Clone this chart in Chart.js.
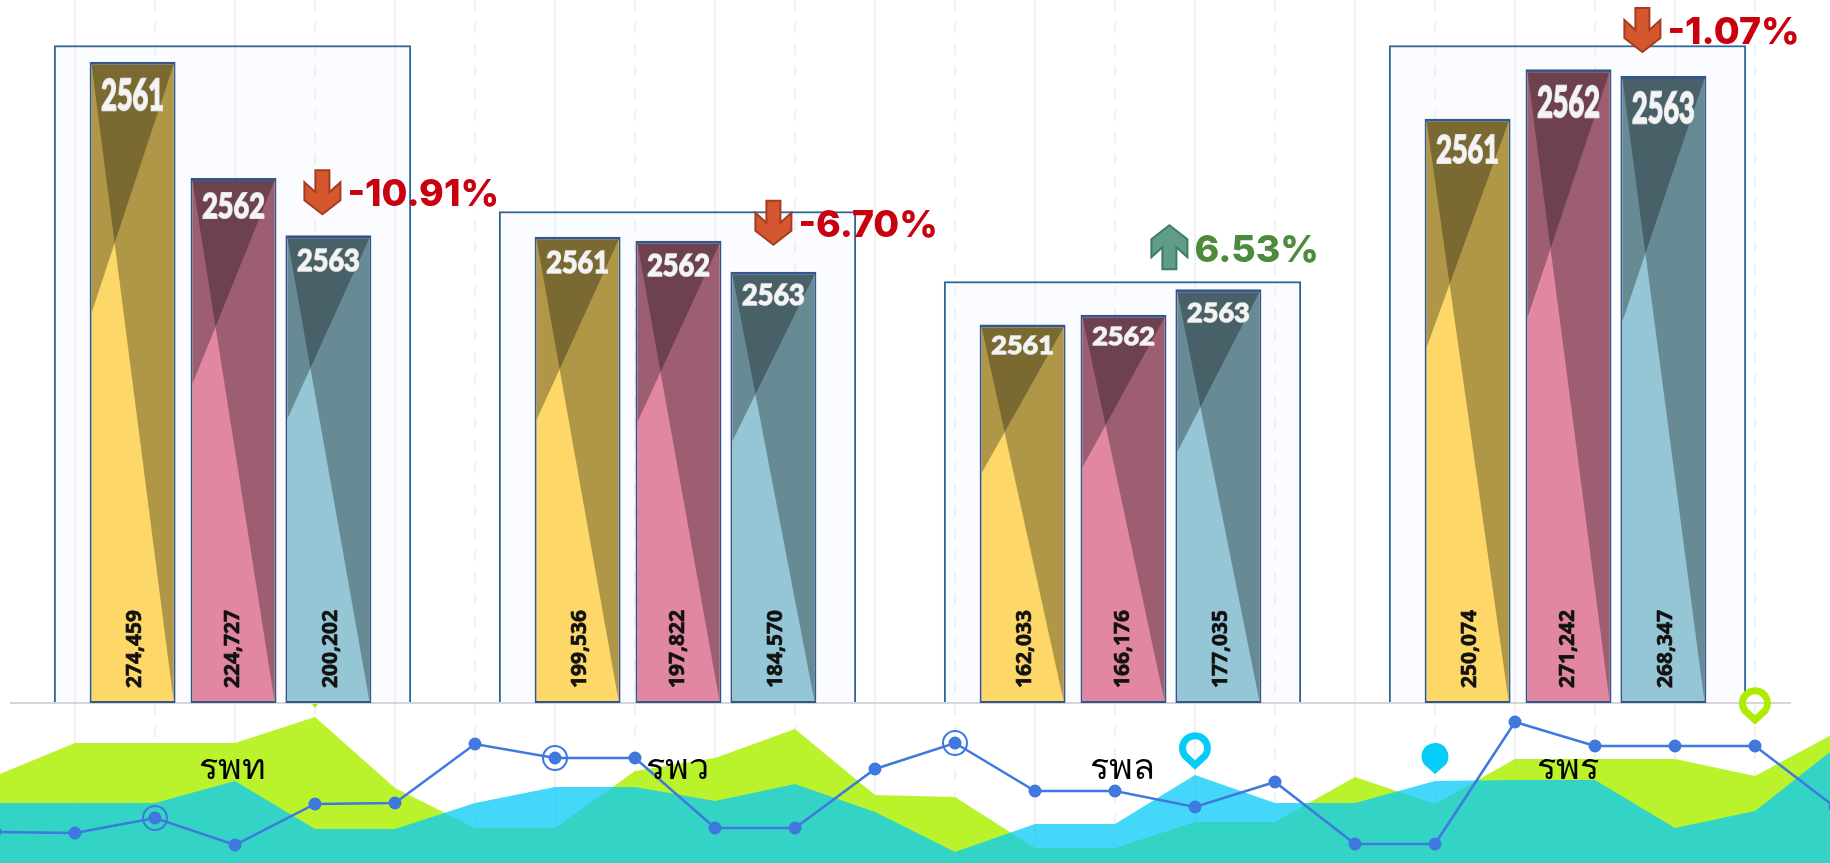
<!DOCTYPE html>
<html>
<head>
<meta charset="utf-8">
<title>chart</title>
<script src="https://cdn.jsdelivr.net/npm/chart.js@4"></script>
<style>
html, body { margin: 0; padding: 0; background: #fff; overflow: hidden; width: 1830px; height: 863px; }
canvas { position: absolute; top: 0; }
#trendChart { left: -5px; }
#boxChart, #barChart { left: 10px; }
</style>
</head>
<body>
<canvas id="trendChart" width="1840" height="863"></canvas>
<canvas id="boxChart" width="1780" height="863"></canvas>
<canvas id="barChart" width="1820" height="863"></canvas>
<script>
// bar part
const categories = ['รพท', 'รพว', 'รพล', 'รพร'];
const years = ['2561', '2562', '2563'];
const values2561 = [274459, 199536, 162033, 250074];
const values2562 = [224727, 197822, 166176, 271242];
const values2563 = [200202, 184570, 177035, 268347];
const boxValues = [281500, 210500, 180500, 281500];
const changes = ['-10.91%', '-6.70%', '6.53%', '-1.07%'];

// bottom part
const slots = ['0', '1', '2', '3', '4', '5', '6', '7', '8', '9', '10', '11', '12', '13', '14', '15', '16', '17', '18', '19', '20', '21', '22', '23'];
const limeValues = [87, 120, 120, 120, 146, 75, 35, 35, 92, 105, 134, 68, 66, 15, 15, 41, 41, 86, 59, 104, 104, 104, 87, 130];
const cyanValues = [60, 60, 60, 82, 34, 34, 60, 76, 76, 62, 79, 51, 11, 39, 39, 88, 60, 60, 82, 83, 83, 35, 52, 115];
const lineValues = [31, 30, 45, 18, 59, 60, 119, 105, 105, 35, 35, 94, 120, 72, 72, 56, 81, 19, 19, 141, 117, 117, 117, 56];
const ringSlots = [2, 7, 12];

const barColors = ['#FDD868', '#E287A2', '#95C6D6'];
const LIME = 'rgba(174, 241, 6, 0.85)';
const CYAN = 'rgba(7, 202, 248, 0.754)';
const BLUE = '#3F78DE';

// the three bars of a group are not evenly spaced in the picture
const barNudge = [-2, 1, -2];
const valueTextShift = [2, 0, 3];

// where each change badge sits against the third bar of its group
const badgeShift = [-6, 0, -49, -21];
const badgeLift = [43, 49, 42, 46];

let trendChart;

function drawArrow(ctx, cx, cy, up) {
    const pts = [[-7, -22], [7, -22], [7, 0], [18, -10], [18, 8], [0, 22], [-18, 8], [-18, -10], [-7, 0]];
    ctx.beginPath();
    pts.forEach(function(p, i) {
        let py = up ? cy - p[1] : cy + p[1];
        if (i === 0) ctx.moveTo(cx + p[0], py); else ctx.lineTo(cx + p[0], py);
    });
    ctx.closePath();
    ctx.fillStyle = up ? '#5F9D87' : '#D5572F';
    ctx.strokeStyle = up ? '#3B7D66' : '#A63C1F';
    ctx.lineWidth = 2;
    ctx.fill();
    ctx.stroke();
}

function drawPin(ctx, x, tipY, size, color, hollow) {
    const r = size / 2;
    const cy = tipY - size * 1.15 + r;
    ctx.beginPath();
    ctx.arc(x, cy, hollow ? r - 3.5 : r, Math.PI * 0.8, Math.PI * 0.2);
    ctx.lineTo(x, hollow ? tipY - 4 : tipY);
    ctx.closePath();
    if (hollow) {
        ctx.strokeStyle = color;
        ctx.lineWidth = 7;
        ctx.stroke();
    } else {
        ctx.fillStyle = color;
        ctx.fill();
    }
}

const barMarks = {
    id: 'barMarks',
    afterDatasetsUpdate(chart) {
        years.forEach(function(year, d) {
            chart.getDatasetMeta(d).data.forEach(function(bar) {
                bar.x += barNudge[d];
            });
        });
    },
    afterDatasetsDraw(chart) {
        const ctx = chart.ctx;
        years.forEach(function(year, d) {
            const meta = chart.getDatasetMeta(d);
            meta.data.forEach(function(bar) {
                // inside the border only
                const L = bar.x - bar.width / 2 + 2, R = bar.x + bar.width / 2 - 2;
                const T = bar.y + 3, B = bar.base - 2, h = B - T;
                ctx.save();
                // the two dark triangles over each bar
                ctx.fillStyle = 'rgba(0, 0, 0, 0.3)';
                ctx.beginPath();
                ctx.moveTo(L, T); ctx.lineTo(R, T); ctx.lineTo(R, B);
                ctx.fill();
                ctx.beginPath();
                ctx.moveTo(L, T); ctx.lineTo(R, T); ctx.lineTo(L, T + h * 0.39);
                ctx.fill();
                // year, stretched with the height of the bar
                ctx.translate(bar.x, T + h * 0.05);
                ctx.scale(1, h * 0.047 / 19);
                ctx.font = 'bold 27px Lato';
                ctx.textAlign = 'center';
                ctx.textBaseline = 'middle';
                ctx.lineWidth = 1.5;
                ctx.strokeStyle = '#e4e4e4';
                ctx.fillStyle = '#f4f4f4';
                ctx.strokeText(year, 0, 0);
                ctx.fillText(year, 0, 0);
                ctx.restore();
            });
        });
        // value text
        years.forEach(function(year, d) {
            const values = chart.data.datasets[d].data;
            chart.getDatasetMeta(d).data.forEach(function(bar, i) {
                ctx.save();
                ctx.translate(bar.x + valueTextShift[d], bar.base - 15);
                ctx.rotate(-Math.PI / 2);
                ctx.font = 'bold 21px "Open Sans"';
                ctx.textAlign = 'left';
                ctx.textBaseline = 'middle';
                ctx.fillStyle = '#111';
                ctx.strokeStyle = '#111';
                ctx.lineWidth = 0.6;
                ctx.strokeText(values[i].toLocaleString('en-US'), 0, 0);
                ctx.fillText(values[i].toLocaleString('en-US'), 0, 0);
                ctx.restore();
            });
        });
        // change badges
        const third = chart.getDatasetMeta(2).data;
        changes.forEach(function(text, i) {
            const up = text.charAt(0) !== '-';
            const ax = third[i].x + badgeShift[i];
            const ay = third[i].y - badgeLift[i];
            drawArrow(ctx, ax, ay, up);
            ctx.font = '800 37.5px Inter';
            ctx.textAlign = 'left';
            ctx.textBaseline = 'middle';
            ctx.fillStyle = up ? '#4E8A3C' : '#C9000E';
            ctx.fillText(text, ax + 25, ay + 3);
        });
        // pins, placed from the trend chart's scales
        const tx = trendChart.scales.x, ty = trendChart.scales.y;
        const shift = -15;
        drawPin(ctx, tx.getPixelForValue(15) + shift, ty.getPixelForValue(cyanValues[15]) - 6, 32, '#05CDF8', true);
        drawPin(ctx, tx.getPixelForValue(18) + shift, ty.getPixelForValue(cyanValues[18]) - 7, 27, '#05CDF8', false);
        drawPin(ctx, tx.getPixelForValue(22) + shift, ty.getPixelForValue(lineValues[22]) - 22, 32, '#ADEB00', true);
        // only the tip of the pin over the lime peak shows below the axis line
        const peakX = tx.getPixelForValue(4) + shift, peakY = ty.getPixelForValue(limeValues[4]);
        ctx.beginPath();
        ctx.moveTo(peakX - 3, peakY - 13);
        ctx.lineTo(peakX + 3, peakY - 13);
        ctx.lineTo(peakX, peakY - 9);
        ctx.closePath();
        ctx.fillStyle = '#ADEB00';
        ctx.fill();
    }
};

trendChart = new Chart(document.getElementById('trendChart'), {
    data: {
        labels: slots,
        datasets: [{
            type: 'line',
            data: lineValues.map(function(v, i) { return ringSlots.includes(i) ? v : null; }),
            showLine: false,
            pointRadius: 12,
            pointBackgroundColor: 'rgba(0,0,0,0)',
            pointBorderColor: BLUE,
            pointBorderWidth: 2
        }, {
            type: 'line',
            data: lineValues,
            borderColor: BLUE,
            borderWidth: 2.5,
            tension: 0,
            pointRadius: 6.5,
            pointBackgroundColor: BLUE,
            pointBorderColor: BLUE,
            pointBorderWidth: 0
        }, {
            type: 'line',
            data: cyanValues,
            backgroundColor: CYAN,
            borderWidth: 0,
            pointRadius: 0,
            tension: 0,
            fill: 'origin'
        }, {
            type: 'line',
            data: limeValues,
            backgroundColor: LIME,
            borderWidth: 0,
            pointRadius: 0,
            tension: 0,
            fill: 'origin'
        }]
    },
    options: {
        responsive: false,
        animation: false,
        layout: { padding: 0, autoPadding: false },
        plugins: { legend: { display: false }, tooltip: { enabled: false } },
        scales: {
            x: {
                offset: false,
                ticks: { display: false, autoSkip: false },
                border: {
                    display: false,
                    dash: function(c) { return c.index % 2 === 1 ? [] : [11, 11]; }
                },
                grid: { color: '#f1f1f4', lineWidth: 2, drawTicks: false }
            },
            y: {
                display: false,
                min: 0,
                max: 863
            }
        }
    }
});

new Chart(document.getElementById('boxChart'), {
    type: 'bar',
    data: {
        labels: categories,
        datasets: [{
            data: boxValues,
            backgroundColor: 'rgba(235, 242, 255, 0.2)',
            borderColor: '#2E6595',
            borderWidth: 2,
            borderSkipped: 'bottom',
            categoryPercentage: 0.803,
            barPercentage: 1
        }]
    },
    options: {
        responsive: false,
        animation: false,
        layout: { padding: { top: 2, bottom: 160 }, autoPadding: false },
        plugins: { legend: { display: false }, tooltip: { enabled: false } },
        scales: {
            x: { display: false },
            y: { display: false, min: 0, max: 300000 }
        }
    }
});

new Chart(document.getElementById('barChart'), {
    type: 'bar',
    data: {
        labels: categories,
        datasets: [
            { label: years[0], data: values2561, backgroundColor: barColors[0] },
            { label: years[1], data: values2562, backgroundColor: barColors[1] },
            { label: years[2], data: values2563, backgroundColor: barColors[2] }
        ]
    },
    options: {
        responsive: false,
        animation: false,
        layout: { padding: { top: 2, right: 40 }, autoPadding: false },
        plugins: { legend: { display: false }, tooltip: { enabled: false } },
        datasets: {
            bar: {
                categoryPercentage: 0.66,
                barPercentage: 0.878,
                borderColor: '#34568B',
                borderWidth: { top: 3, left: 2, right: 2, bottom: 2 },
                borderSkipped: false
            }
        },
        scales: {
            x: {
                afterFit: function(scale) { scale.height = 160; },
                border: { color: '#d6d6d6', width: 2 },
                grid: { display: false, drawTicks: false },
                ticks: {
                    color: '#000',
                    padding: 44,
                    maxRotation: 0,
                    font: { family: '"Noto Sans"', size: 36 }
                }
            },
            y: { display: false, min: 0, max: 300000 }
        }
    },
    plugins: [barMarks]
});
</script>
</body>
</html>
